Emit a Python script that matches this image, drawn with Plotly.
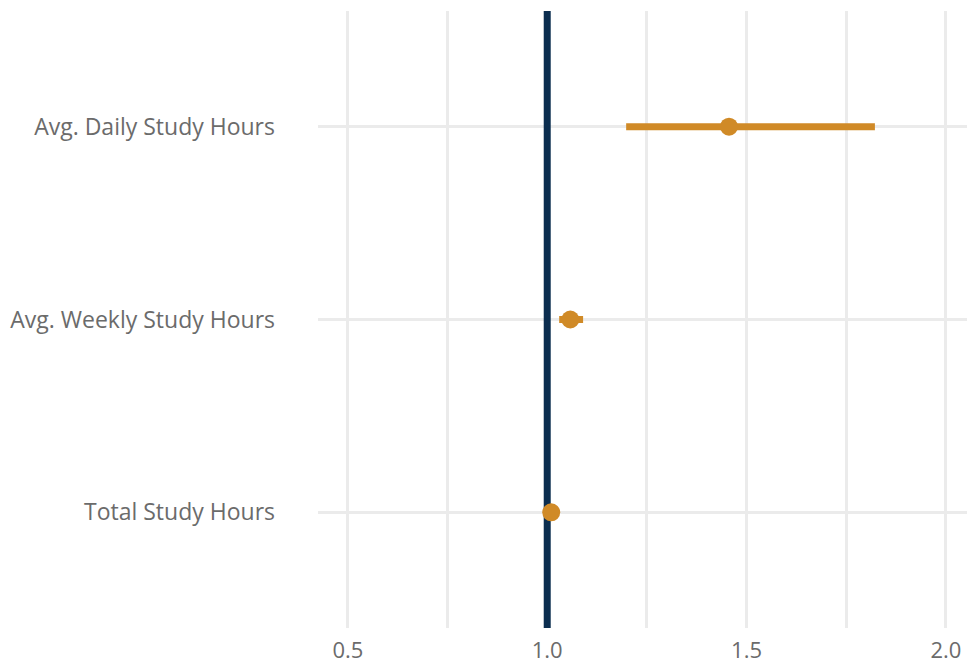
import plotly.graph_objects as go

categories = ["Total Study Hours", "Avg. Weekly Study Hours", "Avg. Daily Study Hours"]
estimates = [1.01, 1.058, 1.456]
ci_low = [1.005, 1.030, 1.198]
ci_high = [1.015, 1.090, 1.822]
ref_value = 1.0
x_ticks = [0.5, 1.0, 1.5, 2.0]
x_tick_labels = ["0.5", "1.0", "1.5", "2.0"]
x_range = [0.425, 2.053]
y_range = [-0.6, 2.6]

orange = "#D08A27"
navy = "#0B2D4F"
grid = "#EBEBEB"
text_col = "#6B6B6B"
font_family = "'Open Sans', Lato, sans-serif"

fig = go.Figure()

fig.add_trace(go.Scatter(
    x=[ref_value, ref_value], y=y_range,
    mode="lines", line=dict(color=navy, width=7),
    showlegend=False, hoverinfo="skip", cliponaxis=True,
))

fig.add_trace(go.Scatter(
    x=estimates,
    y=list(range(len(categories))),
    mode="markers",
    marker=dict(color=orange, size=18),
    error_x=dict(
        type="data", symmetric=False,
        array=[h - e for h, e in zip(ci_high, estimates)],
        arrayminus=[e - l for e, l in zip(estimates, ci_low)],
        color=orange, thickness=7, width=0,
    ),
    showlegend=False,
    hoverinfo="x+y",
))

fig.update_layout(
    width=967, height=665,
    margin=dict(l=318, r=0, t=11, b=37),
    paper_bgcolor="white",
    plot_bgcolor="white",
    font=dict(family=font_family, color=text_col, size=23),
    xaxis=dict(
        range=x_range, automargin=False,
        tickvals=x_ticks, ticktext=x_tick_labels,
        showgrid=True, gridcolor=grid, gridwidth=2.5,
        minor=dict(dtick=0.25, tick0=0.5, showgrid=True, gridcolor=grid, gridwidth=2.5),
        zeroline=False, showline=False, ticks="",
        ticklabelstandoff=7,
        tickfont=dict(size=22, color=text_col),
    ),
    yaxis=dict(
        range=y_range, automargin=False,
        tickvals=list(range(len(categories))), ticktext=categories,
        showgrid=True, gridcolor=grid, gridwidth=2.5,
        zeroline=False, showline=False, ticks="",
        ticklabelstandoff=42,
        tickfont=dict(size=23, color=text_col),
    ),
)

fig.write_html("out.html")
